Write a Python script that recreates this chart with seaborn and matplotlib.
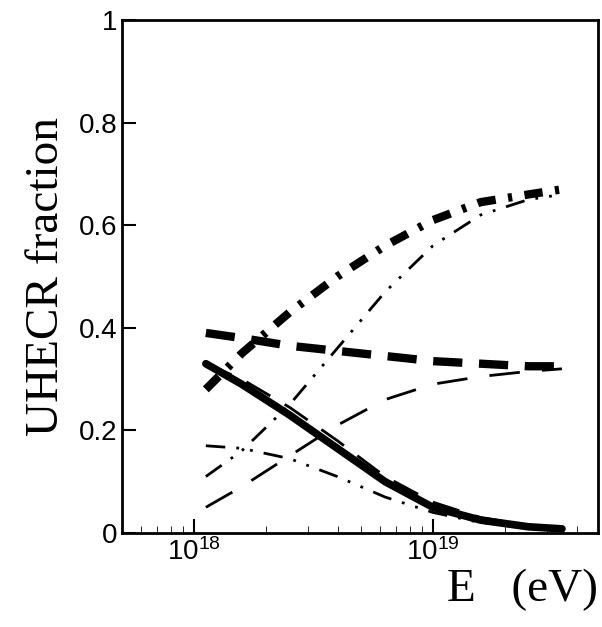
import numpy as np
import pandas as pd
import seaborn as sns
import matplotlib.pyplot as plt

log_e = [18.05, 18.2, 18.4, 18.6, 18.8, 19.0, 19.2, 19.4, 19.54]
solid_thick = [0.33, 0.29, 0.23, 0.165, 0.10, 0.05, 0.025, 0.012, 0.008]
dash_thin_dec = [0.33, 0.30, 0.245, 0.18, 0.11, 0.06, 0.03, 0.015, 0.01]
dash_thick = [0.39, 0.38, 0.365, 0.355, 0.345, 0.335, 0.33, 0.325, 0.325]
dashdot_thick = [0.28, 0.35, 0.43, 0.50, 0.56, 0.61, 0.645, 0.66, 0.67]
dashdot_thin_inc = [0.11, 0.16, 0.25, 0.36, 0.47, 0.56, 0.62, 0.65, 0.66]
dash_thin_inc = [0.05, 0.09, 0.15, 0.21, 0.26, 0.29, 0.305, 0.315, 0.32]
dashdot_thin_dec = [0.17, 0.165, 0.145, 0.11, 0.07, 0.04, 0.02, 0.012, 0.008]

sns.set_style("ticks")
plt.rcParams['font.family'] = ['Liberation Serif', 'DejaVu Serif']
plt.rcParams['text.color'] = 'black'
plt.rcParams['axes.labelcolor'] = 'black'
plt.rcParams['xtick.color'] = 'black'
plt.rcParams['ytick.color'] = 'black'
plt.rcParams['axes.edgecolor'] = 'black'

fig = plt.figure(figsize=(6.02, 6.27), dpi=100)
ax = fig.add_axes([0.203, 0.15, 0.79, 0.818])

E = 10 ** np.array(log_e)
series = [
    (solid_thick, '-', 5.5),
    (dash_thin_dec, (0, (10, 6)), 2),
    (dash_thick, (0, (3.5, 2)), 6),
    (dashdot_thick, (0, (2.2, 1.5, 0.5, 1.5)), 6),
    (dashdot_thin_inc, (0, (7, 4, 1, 4, 1, 4)), 2),
    (dash_thin_inc, (0, (11, 8)), 2),
    (dashdot_thin_dec, (0, (7, 4, 1, 4, 1, 4)), 2),
]
for vals, ls, lw in series:
    df = pd.DataFrame({'E': E, 'f': vals})
    sns.lineplot(data=df, x='E', y='f', ax=ax, color='black', linestyle=ls, linewidth=lw)

ax.set_xscale('log')
ax.set_xlim(10 ** 17.70, 10 ** 19.69)
ax.set_ylim(0, 1)
ax.set_yticks([0, 0.2, 0.4, 0.6, 0.8, 1])
ax.set_yticklabels(['0', '0.2', '0.4', '0.6', '0.8', '1'], family=['Liberation Sans'])
ax.set_xticks([1e18, 1e19])
ax.tick_params(axis='both', which='both', direction='in', labelsize=20)
ax.tick_params(which='major', length=10, width=1.5)
ax.tick_params(which='minor', length=5)
for lab in ax.get_xticklabels():
    lab.set_family('Liberation Sans')
for s in ax.spines.values():
    s.set_linewidth(2)
ax.set_xlabel('E   (eV)', fontsize=34, loc='right', labelpad=2)
ax.set_ylabel('UHECR fraction', fontsize=34, labelpad=8)

fig.savefig('out.png', dpi=100)
